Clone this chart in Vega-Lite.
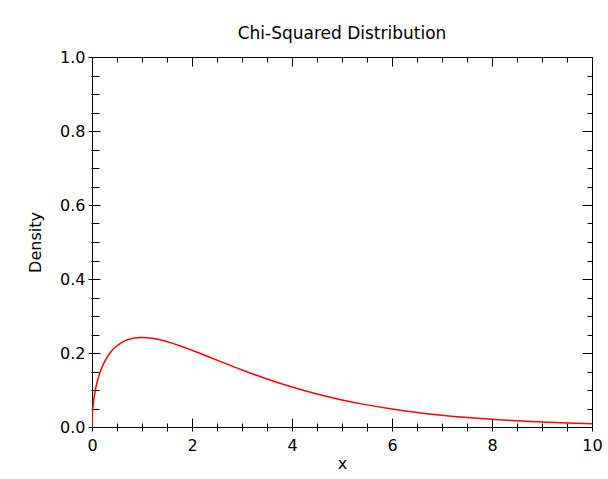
{
  "$schema": "https://vega.github.io/schema/vega-lite/v6.json",
  "width": 500,
  "height": 370,
  "autosize": "none",
  "padding": {"left": 92, "top": 57, "right": 16, "bottom": 52},
  "background": "white",
  "config": {
    "view": {"stroke": "black", "strokeWidth": 1},
    "font": "DejaVu Sans",
    "axis": {"domain": false, "grid": false, "tickColor": "black", "tickWidth": 1, "labelColor": "black", "labelFont": "DejaVu Sans", "labelFontSize": 16, "titleFont": "DejaVu Sans", "titleFontSize": 16, "titleFontWeight": "normal", "titleColor": "black"}
  },
  "title": {"text": "Chi-Squared Distribution", "font": "DejaVu Sans", "fontSize": 17, "fontWeight": "normal", "color": "black", "anchor": "middle", "frame": "group", "baseline": "alphabetic", "offset": 18, "dy": 25},
  "data": {"values": [
    {"x": 0, "density": 0},
    {"x": 0.002, "density": 0.01784},
    {"x": 0.005, "density": 0.02814},
    {"x": 0.01, "density": 0.0397},
    {"x": 0.03, "density": 0.06807},
    {"x": 0.05, "density": 0.087},
    {"x": 0.1, "density": 0.12},
    {"x": 0.15, "density": 0.14334},
    {"x": 0.2, "density": 0.16143},
    {"x": 0.3, "density": 0.18807},
    {"x": 0.4, "density": 0.20658},
    {"x": 0.5, "density": 0.2197},
    {"x": 0.6, "density": 0.22893},
    {"x": 0.7, "density": 0.23521},
    {"x": 0.8, "density": 0.23919},
    {"x": 0.9, "density": 0.24133},
    {"x": 1.0, "density": 0.24197},
    {"x": 1.2, "density": 0.23984},
    {"x": 1.4, "density": 0.23441},
    {"x": 1.6, "density": 0.22674},
    {"x": 1.8, "density": 0.21761},
    {"x": 2.0, "density": 0.20755},
    {"x": 2.5, "density": 0.18072},
    {"x": 3.0, "density": 0.15418},
    {"x": 3.5, "density": 0.1297},
    {"x": 4.0, "density": 0.10798},
    {"x": 4.5, "density": 0.0892},
    {"x": 5.0, "density": 0.07322},
    {"x": 5.5, "density": 0.05981},
    {"x": 6.0, "density": 0.04865},
    {"x": 6.5, "density": 0.03944},
    {"x": 7.0, "density": 0.03187},
    {"x": 7.5, "density": 0.02569},
    {"x": 8.0, "density": 0.02067},
    {"x": 8.5, "density": 0.01659},
    {"x": 9.0, "density": 0.0133},
    {"x": 9.5, "density": 0.01064},
    {"x": 10.0, "density": 0.0085}
  ]},
  "resolve": {"axis": {"x": "independent", "y": "independent"}},
  "layer": [
    {
      "mark": {"type": "line", "color": "#ff0000", "strokeWidth": 1.5, "interpolate": "monotone", "clip": true},
      "encoding": {
        "x": {"field": "x", "type": "quantitative", "scale": {"domain": [0, 10], "nice": false},
          "axis": {"orient": "bottom", "title": "x", "values": [0,0.5,1,1.5,2,2.5,3,3.5,4,4.5,5,5.5,6,6.5,7,7.5,8,8.5,9,9.5,10], "tickSize": 4, "labelPadding": 6, "labelFlush": false, "labelOverlap": false, "labelExpr": "datum.value % 2 === 0 ? format(datum.value, 'd') : ''", "titlePadding": 2}},
        "y": {"field": "density", "type": "quantitative", "scale": {"domain": [0, 1], "nice": false},
          "axis": {"orient": "left", "title": "Density", "values": [0,0.05,0.1,0.15,0.2,0.25,0.3,0.35,0.4,0.45,0.5,0.55,0.6,0.65,0.7,0.75,0.8,0.85,0.9,0.95,1], "tickSize": {"condition": {"test": "abs(datum.value*5 - round(datum.value*5)) < 1e-6", "value": 4}, "value": 1}, "labelPadding": 3, "labelFlush": false, "labelOverlap": false, "labelExpr": "abs(datum.value*5 - round(datum.value*5)) < 1e-6 ? format(datum.value, '.1f') : ''", "titlePadding": 16}}
      }
    },
    {
      "mark": {"type": "line", "strokeOpacity": 0},
      "encoding": {
        "x": {"field": "x", "type": "quantitative",
          "axis": {"orient": "bottom", "title": null, "labels": false, "values": [0,0.5,1,1.5,2,2.5,3,3.5,4,4.5,5,5.5,6,6.5,7,7.5,8,8.5,9,9.5,10], "tickSize": {"condition": {"test": "datum.value % 2 === 0", "value": -9}, "value": -4}}},
        "y": {"field": "density", "type": "quantitative",
          "axis": {"orient": "left", "title": null, "labels": false, "values": [0,0.05,0.1,0.15,0.2,0.25,0.3,0.35,0.4,0.45,0.5,0.55,0.6,0.65,0.7,0.75,0.8,0.85,0.9,0.95,1], "tickSize": {"condition": {"test": "abs(datum.value*5 - round(datum.value*5)) < 1e-6", "value": -8}, "value": -7}}}
      }
    },
    {
      "mark": {"type": "line", "strokeOpacity": 0},
      "encoding": {
        "x": {"field": "x", "type": "quantitative",
          "axis": {"orient": "top", "title": null, "labels": false, "values": [0,0.5,1,1.5,2,2.5,3,3.5,4,4.5,5,5.5,6,6.5,7,7.5,8,8.5,9,9.5,10], "tickSize": {"condition": {"test": "datum.value % 2 === 0", "value": -9}, "value": -5}}},
        "y": {"field": "density", "type": "quantitative",
          "axis": {"orient": "right", "title": null, "labels": false, "values": [0,0.05,0.1,0.15,0.2,0.25,0.3,0.35,0.4,0.45,0.5,0.55,0.6,0.65,0.7,0.75,0.8,0.85,0.9,0.95,1], "tickSize": {"condition": {"test": "abs(datum.value*5 - round(datum.value*5)) < 1e-6", "value": -10}, "value": -5}}}
      }
    }
  ]
}
